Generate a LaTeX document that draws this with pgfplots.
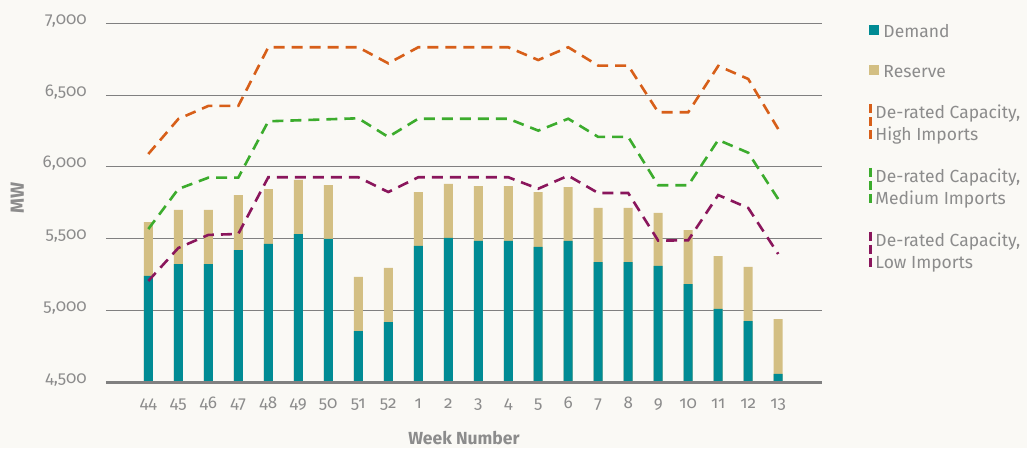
\documentclass[border=0pt]{standalone}
\usepackage{pgfplots}
\pgfplotsset{compat=1.18}
\usepackage{fontspec}
\setmainfont{Fira Sans}[Numbers=OldStyle]

\definecolor{bgcol}{RGB}{250,249,245}
\definecolor{demandcol}{RGB}{0,139,148}
\definecolor{reservecol}{RGB}{211,191,131}
\definecolor{highcol}{RGB}{215,95,25}
\definecolor{medcol}{RGB}{60,172,45}
\definecolor{lowcol}{RGB}{138,22,92}
\definecolor{txtcol}{RGB}{140,140,140}
\definecolor{gridcol}{RGB}{128,128,128}

\begin{document}
\begin{tikzpicture}
\path[fill=bgcol, use as bounding box] (-106pt,-66pt) rectangle (921pt,382pt);
\begin{axis}[
  at={(0pt,0pt)}, anchor=south west,
  scale only axis, width=716pt, height=358.7pt,
  xmin=-1.41, xmax=22.46, ymin=4500, ymax=7000,
  ytick={4500,5000,...,7000},
  xtick={0,...,21},
  xticklabels={44,45,46,47,48,49,50,51,52,1,2,3,4,5,6,7,8,9,10,11,12,13},
  axis line style={draw=none},
  major tick length=0pt,
  ymajorgrids, grid style={gridcol, line width=1pt},
  /pgf/number format/assume math mode=true,
  /pgf/number format/1000 sep={,},
  tick label style={font=\fontsize{17}{20}\selectfont, text=txtcol, inner sep=0pt},
  yticklabel style={anchor=base east, xshift=-19pt, yshift=-1pt},
  xticklabel style={anchor=base, yshift=-26pt},
  ylabel={\textbf{MW}},
  ylabel style={at={(axis description cs:-0.124,0.513)}, anchor=center,
    font=\fontsize{19}{22}\selectfont, text=txtcol},
  xlabel={\textbf{Week Number}},
  xlabel style={at={(axis description cs:0.5,0)}, anchor=base, yshift=-62.5pt,
    font=\fontsize{17.5}{20}\selectfont, text=txtcol},
  legend cell align=left,
  legend style={at={(axis description cs:1.0656,0.997)}, anchor=north west,
    draw=none, fill=none, inner sep=0pt, outer sep=0pt,
    row sep=24pt, column sep=4.5pt,
    font=\fontsize{17.5}{22}\selectfont, text=txtcol,
    nodes={inner sep=0pt}, cells={align=left}},
  after end axis/.code={\draw[gridcol, line width=3pt] (rel axis cs:0,0) -- (rel axis cs:1,0);},
]
% demand + reserve (total height of the bar)
\addplot[ybar, bar width=9pt, bar shift=0pt, fill=reservecol, draw=none, forget plot]
  coordinates {(0,5615) (1,5699) (2,5699) (3,5803) (4,5845) (5,5908) (6,5873)
    (7,5232) (8,5295) (9,5824) (10,5880) (11,5866) (12,5866) (13,5824) (14,5859)
    (15,5713) (16,5713) (17,5678) (18,5559) (19,5378) (20,5302) (21,4939)};
% demand
\addplot[ybar, bar width=9pt, bar shift=0pt, fill=demandcol, draw=none, forget plot]
  coordinates {(0,5240) (1,5322) (2,5322) (3,5420) (4,5462) (5,5531) (6,5497)
    (7,4855) (8,4918) (9,5448) (10,5504) (11,5483) (12,5483) (13,5441) (14,5483)
    (15,5336) (16,5336) (17,5309) (18,5183) (19,5009) (20,4925) (21,4556)};

\addlegendimage{legend image code/.code={\path[draw=none, fill=none] (0pt,-9.5pt) rectangle (10pt,6.5pt);
  \fill[demandcol, draw=none] (0pt,-3.5pt) rectangle (10pt,6.5pt);}}
\addlegendimage{legend image code/.code={
  \fill[reservecol, draw=none] (0pt,-3.5pt) rectangle (10pt,6.5pt);}}

\addplot[sharp plot, highcol, line width=2.6pt, dash pattern=on 11pt off 7pt,
  legend image code/.code={\path[draw=none, fill=none] (0pt,0pt) -- (10pt,0pt);
    \draw[highcol, line width=3pt, dash pattern=on 9pt off 4pt]
    (1.5pt,19.6pt) -- (1.5pt,-15.4pt);}]
  coordinates {(0,6089) (1,6333) (2,6424) (3,6424) (4,6833) (5,6833) (6,6833)
    (7,6833) (8,6721) (9,6833) (10,6833) (11,6833) (12,6833) (13,6744) (14,6833)
    (15,6705) (16,6705) (17,6380) (18,6380) (19,6703) (20,6612) (21,6263)};
\addplot[sharp plot, medcol, line width=2.6pt, dash pattern=on 11pt off 7pt,
  legend image code/.code={\path[draw=none, fill=none] (0pt,0pt) -- (10pt,0pt);
    \draw[medcol, line width=3pt, dash pattern=on 9pt off 4pt]
    (1.5pt,19.6pt) -- (1.5pt,-15.4pt);}]
  coordinates {(0,5566) (1,5845) (2,5924) (3,5924) (4,6317) (5,6324) (6,6331)
    (7,6338) (8,6208) (9,6335) (10,6335) (11,6335) (12,6335) (13,6252) (14,6335)
    (15,6208) (16,6208) (17,5871) (18,5871) (19,6187) (20,6098) (21,5775)};
\addplot[sharp plot, lowcol, line width=2.6pt, dash pattern=on 11pt off 7pt,
  legend image code/.code={\path[draw=none, fill=none] (0pt,0pt) -- (10pt,0pt);
    \draw[lowcol, line width=3pt, dash pattern=on 9pt off 4pt]
    (1.5pt,19.6pt) -- (1.5pt,-15.4pt);}]
  coordinates {(0,5204) (1,5434) (2,5525) (3,5532) (4,5927) (5,5927) (6,5927)
    (7,5927) (8,5824) (9,5927) (10,5927) (11,5927) (12,5927) (13,5847) (14,5938)
    (15,5817) (16,5817) (17,5485) (18,5488) (19,5803) (20,5713) (21,5392)};

\legend{Demand, Reserve,
  {\hspace*{-8pt}De-rated Capacity,\\\hspace*{-8pt}High Imports},
  {\hspace*{-8pt}De-rated Capacity,\\\hspace*{-8pt}Medium Imports},
  {\hspace*{-8pt}De-rated Capacity,\\\hspace*{-8pt}Low Imports}}
\end{axis}
\end{tikzpicture}
\end{document}
